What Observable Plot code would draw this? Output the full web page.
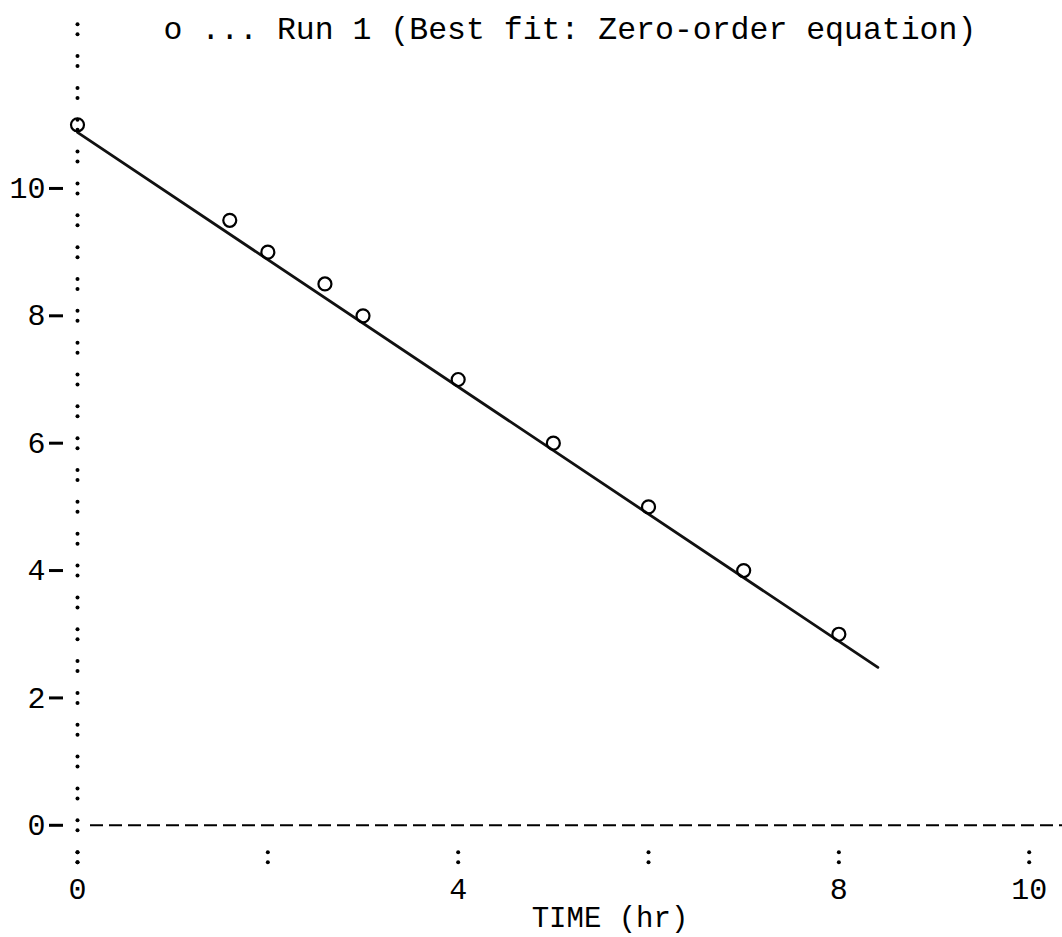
<!DOCTYPE html>
<html>
<head>
<meta charset="utf-8">
<script src="https://cdn.jsdelivr.net/npm/d3@7"></script>
<script src="https://cdn.jsdelivr.net/npm/@observablehq/plot@0.6"></script>
<style>
  html, body { margin: 0; padding: 0; background: #fff; }
  #chart svg { display: block; }
</style>
</head>
<body>
<div id="chart"></div>
<script>
// Run 1: observed concentrations vs time
const time = [0, 1.6, 2, 2.6, 3, 4, 5, 6, 7, 8];
const conc = [11, 9.5, 9, 8.5, 8, 7, 6, 5, 4, 3];

// Zero-order best-fit line (end points)
const fitTime = [0, 8.41];
const fitConc = [10.88, 2.48];

// Axis ticks and labels
const yTicks = [0, 2, 4, 6, 8, 10];
const xTickMarks = [0, 2, 4, 6, 8, 10];
const xTickLabels = [0, 4, 8, 10];
const yColonRows = [-0.5, 0, 0.5, 1, 1.5, 2, 2.5, 3, 3.5, 4, 4.5, 5, 5.5, 6, 6.5,
  7, 7.5, 8, 8.5, 9, 9.5, 10, 10.5, 11, 11.5, 12, 12.5];

const titleText = "o ... Run 1 (Best fit: Zero-order equation)";
const xLabelText = "TIME (hr)";

const points = time.map((t, i) => ({t, c: conc[i]}));
const fit = fitTime.map((t, i) => ({t, c: fitConc[i]}));
const yColons = yColonRows.map(v => ({t: 0, c: v}));
const xColons = xTickMarks.map(v => ({t: v, c: -0.5}));
const colons = yColons.concat(xColons);

const mono = "'Liberation Mono', 'DejaVu Sans Mono', monospace";

const chart = Plot.plot({
  width: 1062,
  height: 937,
  marginLeft: 77,
  marginRight: 0,
  marginTop: 16,
  marginBottom: 74,
  style: {fontFamily: mono, color: "#000", background: "#fff"},
  x: {domain: [0, 10.35]},
  y: {domain: [-0.6, 12.7]},
  marks: [
    // dashed baseline at zero
    Plot.ruleY([0], {stroke: "#000", strokeWidth: 2, strokeDasharray: "13 6", insetLeft: 13}),
    // dotted ":" axis column and x tick colons
    Plot.dot(colons, {x: "t", y: "c", r: 2, fill: "#000", dy: -5}),
    Plot.dot(colons, {x: "t", y: "c", r: 2, fill: "#000", dy: 5}),
    // y axis: dash ticks with numbers
    Plot.axisY(yTicks, {
      tickSize: 14, tickPadding: 4, dx: -14, strokeWidth: 3,
      fontSize: 30, label: null, tickFormat: d => String(d)
    }),
    // x axis: labelled hours
    Plot.axisX(xTickLabels, {
      tickSize: 0, tickPadding: 14, fontSize: 30, label: null, tickFormat: d => String(d)
    }),
    // fitted line
    Plot.line(fit, {x: "t", y: "c", stroke: "#111", strokeWidth: 2.8}),
    // observed points
    Plot.dot(points, {x: "t", y: "c", r: 6.5, stroke: "#000", strokeWidth: 2.2, fill: "none"}),
    // title and axis caption
    Plot.text([titleText], {
      frameAnchor: "top-left", dx: 86, dy: 12, textAnchor: "start", lineAnchor: "middle",
      fontSize: 31.5, fill: "#000"
    }),
    Plot.text([xLabelText], {
      frameAnchor: "bottom", dx: 40, dy: 54, lineAnchor: "middle",
      fontSize: 29, fill: "#000"
    })
  ]
});

document.getElementById("chart").appendChild(chart);
</script>
</body>
</html>
